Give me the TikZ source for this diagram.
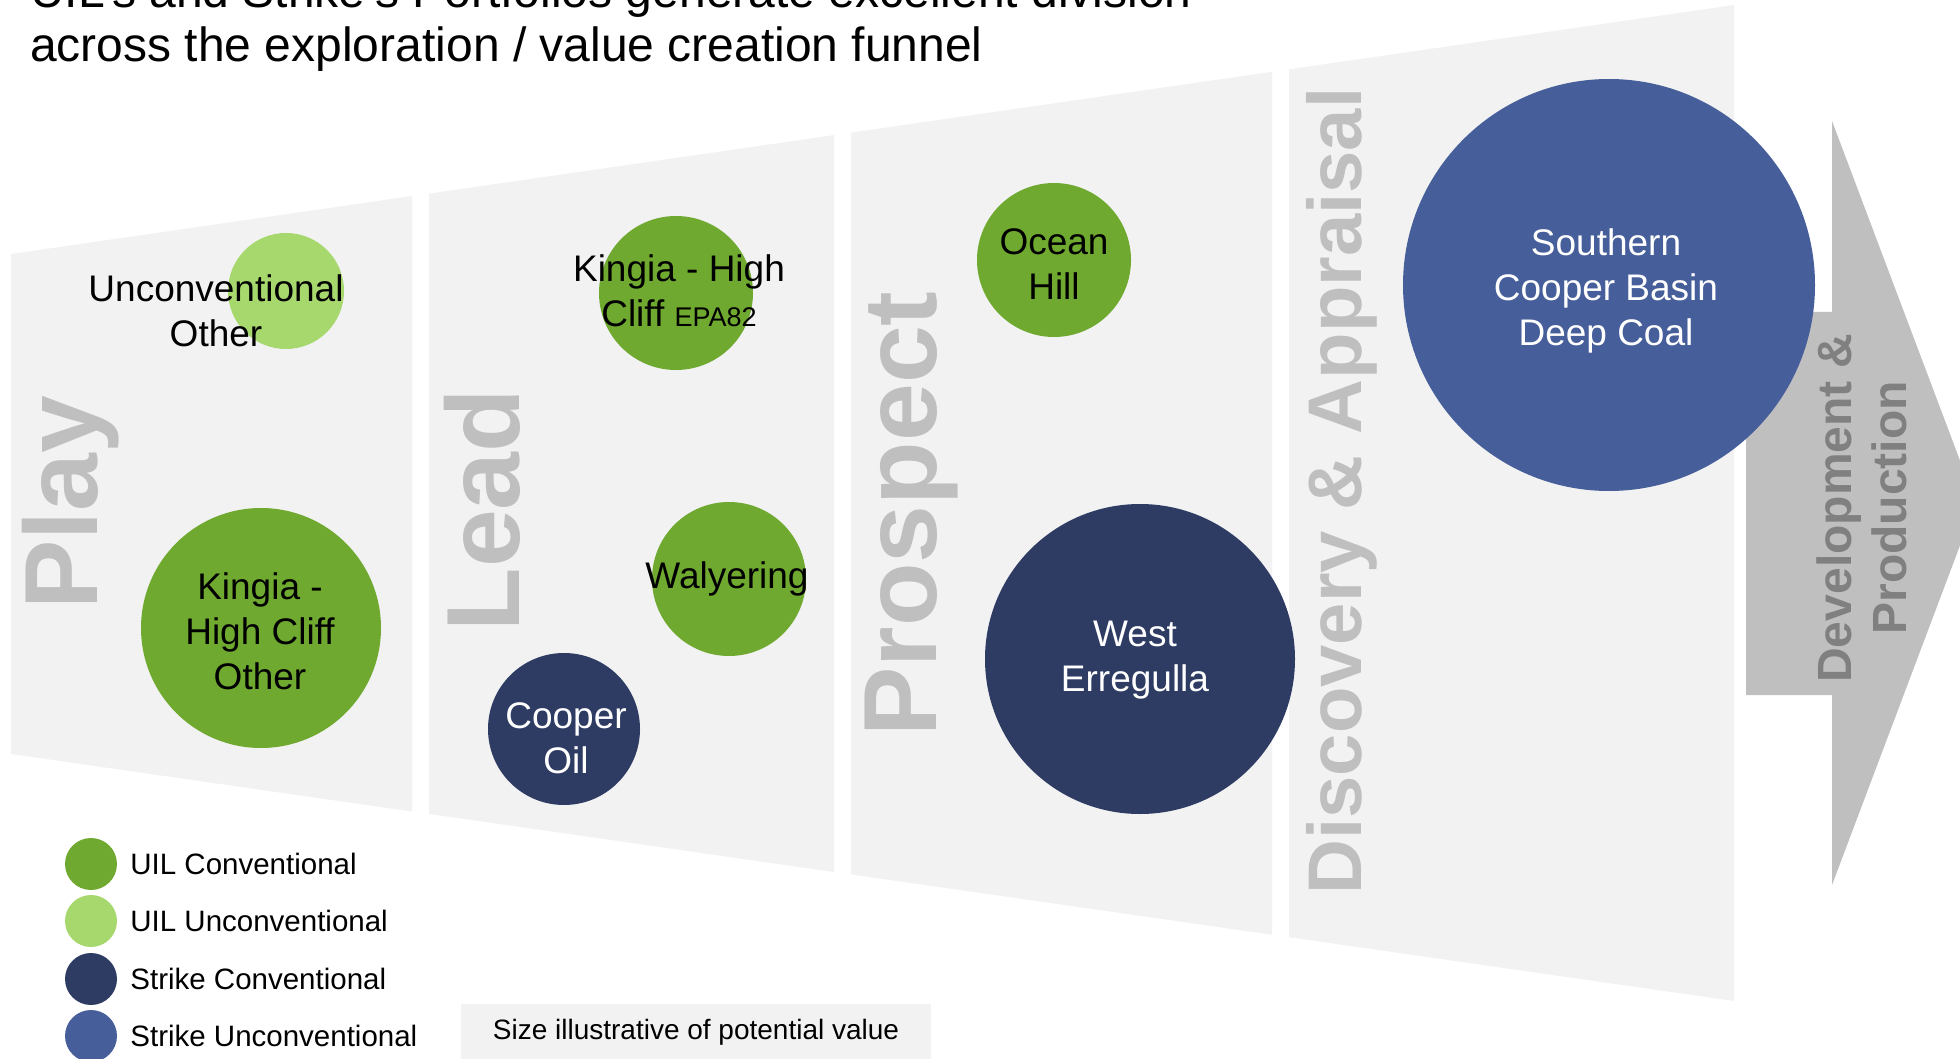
\documentclass[tikz,border=0pt]{standalone}
\usepackage{fontspec}
\setmainfont{Liberation Sans}
\usetikzlibrary{positioning}

\definecolor{uilconv}{HTML}{6FA92F}
\definecolor{uilunconv}{HTML}{A6D86E}
\definecolor{strikeconv}{HTML}{2E3C63}
\definecolor{strikeunconv}{HTML}{465E9A}
\definecolor{panelgray}{HTML}{F2F2F2}
\definecolor{stagegray}{HTML}{BFBFBF}
\definecolor{devtext}{HTML}{808080}

\begin{document}
\begin{tikzpicture}[x=1pt,y=-1pt,every node/.style={inner sep=0pt},
		bubble/.style={circle,minimum size=#1},
		bubbletext/.style={align=center,font=\fontsize{37}{45}\selectfont},
		stage/.style={rotate=90,text=stagegray,
			font=\bfseries\fontsize{104}{110}\selectfont},
		dot/.style={circle,minimum size=52pt},
		legtext/.style={font=\fontsize{29.5}{34}\selectfont}]
		\useasboundingbox (0,0) rectangle (1960,1059);
		\path[clip] (0,0) rectangle (1960,1059);

		% title
		\node[anchor=base west,font=\fontsize{48}{54}\selectfont] (title1) at (30,8)
			{UIL's and Strike's Portfolios generate excellent division};
		\node[anchor=base west,font=\fontsize{48}{54}\selectfont] (title2) at (30,62)
			{across the exploration / value creation funnel};

		% the funnel panels
		\fill[panelgray] (11,254) -- (412,196) -- (412,811.5) -- (11,754) -- cycle;
		\fill[panelgray] (429,193.6) -- (834,135.1) -- (834,872) -- (429,813.9) -- cycle;
		\fill[panelgray] (851,132.6) -- (1272,71.8) -- (1272,934.8) -- (851,874.4) -- cycle;
		\fill[panelgray] (1289,69.3) -- (1734,5) -- (1734,1001) -- (1289,937.2) -- cycle;

		% the arrow
		\fill[stagegray] (1746,312) -- (1832,312) -- (1832,121) -- (1976,503)
			-- (1832,885) -- (1832,695) -- (1746,695) -- cycle;

		% stage names
		\node[stage] (play) at (71,503) {Play};
		\node[stage] (lead) at (482,510) {Lead};
		\node[stage] (prospect) at (912,514) {Prospect};
		\node[stage,font=\bfseries\fontsize{76}{80}\selectfont] (discovery) at (1342,491)
			{Discovery \& Appraisal};

		% create the bubbles
		\node[bubble=116pt,fill=uilunconv] (unconv) at (286,291) {};
		\node[bubble=240pt,fill=uilconv] (kingiaother) at (261,628) {};
		\node[bubble=154pt,fill=uilconv] (kingiaepa) at (676,293) {};
		\node[bubble=154pt,fill=uilconv] (walyering) at (729,579) {};
		\node[bubble=152pt,fill=strikeconv] (cooperoil) at (564,729) {};
		\node[bubble=154pt,fill=uilconv] (oceanhill) at (1054,260) {};
		\node[bubble=310pt,fill=strikeconv] (westerr) at (1140,659) {};
		\node[bubble=412pt,fill=strikeunconv] (southern) at (1609,285) {};

		% bubble texts
		\node[bubbletext] (unconvtxt) at (216,311) {Unconventional\\Other};
		\node[bubbletext] (kingiaothertxt) at (260,631) {Kingia -\\High Cliff\\Other};
		\node[bubbletext] (kingiaepatxt) at (679,291)
			{Kingia - High\\Cliff {\fontsize{27}{30}\selectfont EPA82}};
		\node[bubbletext] (walyeringtxt) at (727,579) {Walyering};
		\node[bubbletext,text=white] (cooperoiltxt) at (566,738) {Cooper\\Oil};
		\node[bubbletext] (oceanhilltxt) at (1054,264) {Ocean\\Hill};
		\node[bubbletext,text=white] (westerrtxt) at (1135,660) {West\\Erregulla};
		\node[bubbletext,text=white] (southerntxt) at (1606,291)
			{Southern\\Cooper Basin\\Deep Coal};

		\node[rotate=90,align=center,text=devtext,
			font=\bfseries\fontsize{48}{55}\selectfont] (devprod) at (1862,508)
			{Development \&\\Production};

		% legend
		\node[dot,fill=uilconv] (legconv) at (91,864) {};
		\node[legtext,right=13pt of legconv] (legconvtxt) {UIL Conventional};
		\node[dot,fill=uilunconv] (legunconv) at (91,921) {};
		\node[legtext,right=13pt of legunconv] (legunconvtxt) {UIL Unconventional};
		\node[dot,fill=strikeconv] (legsconv) at (91,979) {};
		\node[legtext,right=13pt of legsconv] (legsconvtxt) {Strike Conventional};
		\node[dot,fill=strikeunconv] (legsunconv) at (91,1036) {};
		\node[legtext,right=13pt of legsunconv] (legsunconvtxt) {Strike Unconventional};

		\node[fill=panelgray,minimum width=470pt,minimum height=56pt,
			font=\fontsize{28}{32}\selectfont] (sizenote) at (696,1032)
			{Size illustrative of potential value};
	\end{tikzpicture}
\end{document}
